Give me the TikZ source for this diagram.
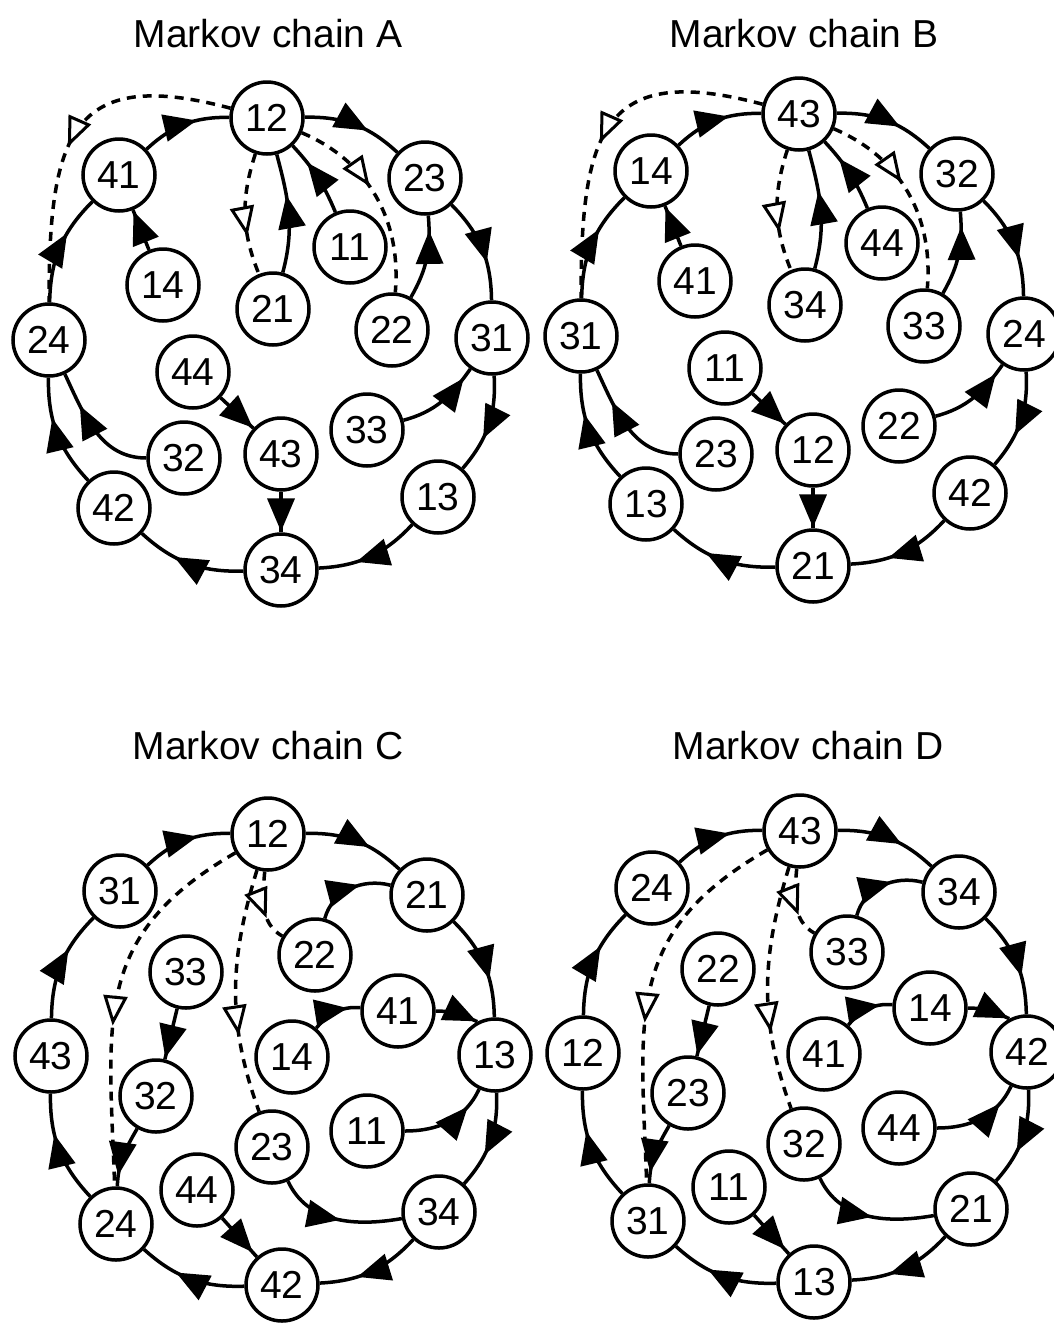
\documentclass[tikz,border=0pt]{standalone}
\usepackage{fontspec}
\setmainfont{Liberation Sans}
\usetikzlibrary{arrows.meta,decorations.markings}
\tikzset{
  st/.style={circle,draw,line width=3.5pt,minimum size=72pt,inner sep=0pt,fill=white,font=\fontsize{39}{40}\selectfont},
  tr/.style={line width=3.5pt,postaction={decorate},decoration={markings,mark=at position #1 with {\arrow{Triangle[length=33pt,width=27pt]}}}},
  tr/.default=0.64,
  dtr/.style={line width=3.5pt,dash pattern=on 9pt off 7pt,postaction={decorate},decoration={markings,mark=at position #1 with {\pgfsetdash{}{0pt}\arrow{Triangle[fill=white,length=30pt,width=24pt,line width=3pt]}}}},
  dtr/.default=0.5,
  ttl/.style={font=\fontsize{39}{44}\selectfont,anchor=base}
}
\newcommand\PanelAB[3]{%
\begin{scope}[shift={(#2,#3)}]
\node[st] (#1top) at (267,-118) {\qTop};
\node[st] (#1ul) at (119,-175) {\qUL};
\node[st] (#1ur) at (425,-178) {\qUR};
\node[st] (#1l) at (49,-340) {\qL};
\node[st] (#1r) at (492,-338) {\qR};
\node[st] (#1ll) at (114,-508) {\qLL};
\node[st] (#1lr) at (438,-497) {\qLR};
\node[st] (#1bot) at (281,-570) {\qBot};
\node[st] (#1ia) at (163,-285) {\qIa};
\node[st] (#1ib) at (273,-309) {\qIb};
\node[st] (#1ic) at (350,-247) {\qIc};
\node[st] (#1id) at (392,-330) {\qId};
\node[st] (#1ie) at (193,-372) {\qIe};
\node[st] (#1if) at (184,-458) {\qIf};
\node[st] (#1ig) at (281,-454) {\qIg};
\node[st] (#1ih) at (367,-430) {\qIh};
\draw[tr] (#1l) to[bend left=22] (#1ul);
\draw[tr] (#1ul) to[bend left=22] (#1top);
\draw[tr] (#1top) to[bend left=22] (#1ur);
\draw[tr] (#1ur) to[bend left=22] (#1r);
\draw[tr] (#1r) to[bend left=22] (#1lr);
\draw[tr] (#1lr) to[bend left=22] (#1bot);
\draw[tr] (#1bot) to[bend left=22] (#1ll);
\draw[tr] (#1ll) to[bend left=22] (#1l);
\draw[tr=0.97] (#1ia) -- (#1ul);
\draw[tr=0.65] (#1ib) to[out=75,in=-75] (#1top);
\draw[tr=0.72] (#1ic) to[bend right=10] (#1top);
\draw[tr=0.82] (#1id) to[out=60,in=-85] (#1ur);
\draw[tr=0.87] (#1ih) to[out=15,in=-125] (#1r);
\draw[tr=0.98] (#1ie) -- (#1ig);
\draw[tr=0.98] (#1ig) -- (#1bot);
\draw[tr=0.72] (#1if) to[out=180,in=-65] (#1l);
\draw[dtr=0.68] (#1top) to[out=-108,in=112] (#1ib);
\draw[dtr=0.44] (#1top) to[out=-23,in=85] (#1id);
\draw[dtr=0.54] (#1top) to[out=165,in=90,looseness=1.6] (#1l);
\end{scope}}
\newcommand\PanelCD[3]{%
\begin{scope}[shift={(#2,#3)}]
\node[st] (#1top) at (268,-834) {\qTop};
\node[st] (#1ul) at (120,-891) {\qUL};
\node[st] (#1ur) at (427,-895) {\qUR};
\node[st] (#1l) at (51,-1056) {\qL};
\node[st] (#1r) at (495,-1055) {\qR};
\node[st] (#1ll) at (116,-1224) {\qLL};
\node[st] (#1lr) at (439,-1212) {\qLR};
\node[st] (#1bot) at (282,-1285) {\qBot};
\node[st] (#1ja) at (315,-955) {\qIa};
\node[st] (#1jb) at (186,-972) {\qIb};
\node[st] (#1jc) at (398,-1011) {\qIc};
\node[st] (#1jd) at (292,-1057) {\qId};
\node[st] (#1je) at (156,-1096) {\qIe};
\node[st] (#1jf) at (367,-1131) {\qIf};
\node[st] (#1jg) at (272,-1147) {\qIg};
\node[st] (#1jh) at (197,-1190) {\qIh};
\draw[tr] (#1ll) to[bend left=22] (#1l);
\draw[tr] (#1l) to[bend left=22] (#1ul);
\draw[tr] (#1ul) to[bend left=22] (#1top);
\draw[tr] (#1top) to[bend left=22] (#1ur);
\draw[tr] (#1ur) to[bend left=22] (#1r);
\draw[tr] (#1r) to[bend left=22] (#1lr);
\draw[tr] (#1lr) to[bend left=22] (#1bot);
\draw[tr] (#1bot) to[bend left=22] (#1ll);
\draw[tr=0.62] (#1ja) to[out=75,in=165] (#1ur);
\draw[tr=0.75] (#1jd) to[out=50,in=175] (#1jc);
\draw[tr=0.98] (#1jc) to[out=0,in=155] (#1r.118);
\draw[tr=0.77] (#1jf) to[out=0,in=-115] (#1r);
\draw[tr=0.52] (#1jg) to[out=-65,in=190] (#1lr);
\draw[tr=0.97] (#1jb) -- (#1je);
\draw[tr=0.82] (#1je) to[out=-120,in=88] (#1ll);
\draw[tr=0.88] (#1jh) -- (#1bot);
\draw[dtr=0.66] (#1top) to[out=-95,in=150] (#1ja);
\draw[dtr=0.68] (#1top) to[out=-107,in=110] (#1jg);
\draw[dtr=0.58] (#1top) to[out=210,in=92,looseness=1.2] (#1ll);
\end{scope}}
\begin{document}
\begin{tikzpicture}[x=1pt,y=1pt]
\fill[white] (0,0) rectangle (1053,-1326);
\useasboundingbox (0,0) rectangle (1053,-1326);
\node[ttl] (ta) at (268,-47) {Markov chain A};
\node[ttl] (tb) at (804,-47) {Markov chain B};
\node[ttl] (tc) at (268,-759) {Markov chain C};
\node[ttl] (td) at (808,-759) {Markov chain D};
\def\qTop{12}\def\qUL{41}\def\qUR{23}\def\qL{24}\def\qR{31}\def\qLL{42}\def\qLR{13}\def\qBot{34}%
\def\qIa{14}\def\qIb{21}\def\qIc{11}\def\qId{22}\def\qIe{44}\def\qIf{32}\def\qIg{43}\def\qIh{33}%
\PanelAB{a}{0}{0}
\def\qTop{43}\def\qUL{14}\def\qUR{32}\def\qL{31}\def\qR{24}\def\qLL{13}\def\qLR{42}\def\qBot{21}%
\def\qIa{41}\def\qIb{34}\def\qIc{44}\def\qId{33}\def\qIe{11}\def\qIf{23}\def\qIg{12}\def\qIh{22}%
\PanelAB{b}{532}{4}
\def\qTop{12}\def\qUL{31}\def\qUR{21}\def\qL{43}\def\qR{13}\def\qLL{24}\def\qLR{34}\def\qBot{42}%
\def\qIa{22}\def\qIb{33}\def\qIc{41}\def\qId{14}\def\qIe{32}\def\qIf{11}\def\qIg{23}\def\qIh{44}%
\PanelCD{c}{0}{0}
\def\qTop{43}\def\qUL{24}\def\qUR{34}\def\qL{12}\def\qR{42}\def\qLL{31}\def\qLR{21}\def\qBot{13}%
\def\qIa{33}\def\qIb{22}\def\qIc{14}\def\qId{41}\def\qIe{23}\def\qIf{44}\def\qIg{32}\def\qIh{11}%
\PanelCD{d}{532}{3}
\end{tikzpicture}
\end{document}
